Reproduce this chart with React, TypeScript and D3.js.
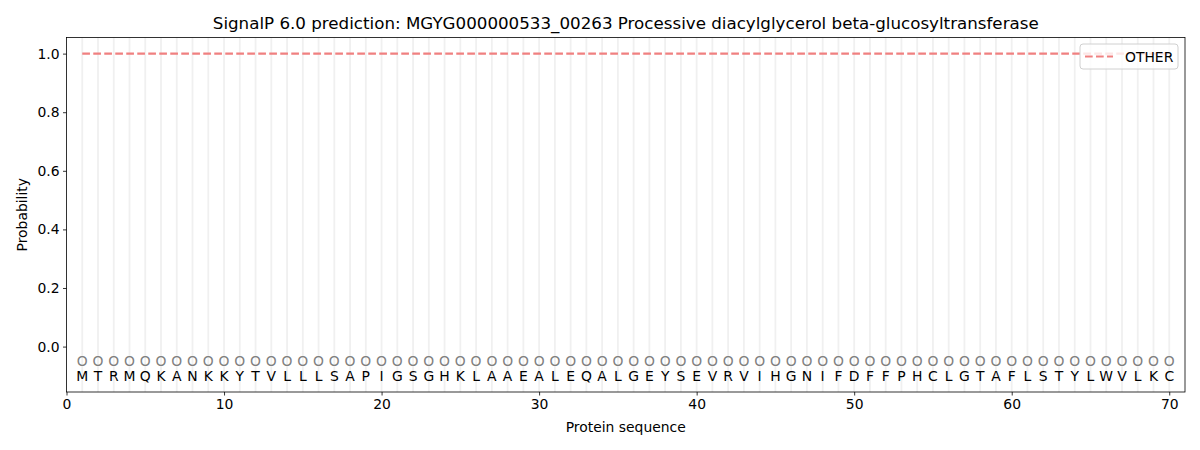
import React from 'react';
import * as d3 from 'd3';

const sequence = 'MTRMQKANKKYTVLLLSAPIGSGHKLAAEALEQALGEYSEVRVIHGNIFDFFPHCLGTAFLSTYLWVLKC'.split('');
const positions = sequence.map((_, i) => i + 1);
const otherProb = positions.map(() => 1.0);
const xTicks = [0, 10, 20, 30, 40, 50, 60, 70];
const yTicks = [0, 0.2, 0.4, 0.6, 0.8, 1.0];

const W = 1200;
const H = 450;
const margin = { left: 66.5, right: 15, top: 37.5, bottom: 58 };
const font = 'DejaVu Sans, sans-serif';

const App: React.FC = () => {
  const ref = React.useRef<SVGSVGElement>(null);

  React.useEffect(() => {
    const svg = d3.select(ref.current);
    svg.selectAll('*').remove();

    const x = d3.scaleLinear().domain([0, 71]).range([margin.left, W - margin.right]);
    const y = d3.scaleLinear().domain([-0.155, 1.055]).range([H - margin.bottom, margin.top]);

    svg.append('rect').attr('width', W).attr('height', H).attr('fill', 'white');

    // vertical grid at each residue
    svg
      .append('g')
      .selectAll('line')
      .data(positions)
      .enter()
      .append('line')
      .attr('x1', (d) => x(d))
      .attr('x2', (d) => x(d))
      .attr('y1', y.range()[0])
      .attr('y2', y.range()[1])
      .attr('stroke', '#f0f0f0')
      .attr('stroke-width', 1.8);

    // OTHER line
    const line = d3
      .line<number>()
      .x((_, i) => x(positions[i]))
      .y((d) => y(d));
    svg
      .append('path')
      .datum(otherProb)
      .attr('d', line)
      .attr('fill', 'none')
      .attr('stroke', '#f08080')
      .attr('stroke-width', 2.08)
      .attr('stroke-dasharray', '7.7,3.3');

    // circles and residue letters
    svg
      .append('g')
      .selectAll('text')
      .data(positions)
      .enter()
      .append('text')
      .attr('x', (d) => x(d))
      .attr('y', y(-0.05))
      .attr('text-anchor', 'middle')
      .attr('dominant-baseline', 'central')
      .attr('font-family', font)
      .attr('font-size', 13.9)
      .attr('fill', '#808080')
      .text('O');

    svg
      .append('g')
      .selectAll('text')
      .data(sequence)
      .enter()
      .append('text')
      .attr('x', (_, i) => x(positions[i]))
      .attr('y', y(-0.1))
      .attr('text-anchor', 'middle')
      .attr('dominant-baseline', 'central')
      .attr('font-family', font)
      .attr('font-size', 13.9)
      .attr('fill', 'black')
      .text((d) => d);

    // axes
    const xAxis = svg
      .append('g')
      .attr('transform', `translate(0,${H - margin.bottom})`)
      .call(d3.axisBottom(x).tickValues(xTicks).tickFormat(d3.format('d')).tickSizeOuter(0).tickSize(3.5).tickPadding(3.5));
    const yAxis = svg
      .append('g')
      .attr('transform', `translate(${margin.left},0)`)
      .call(d3.axisLeft(y).tickValues(yTicks).tickFormat(d3.format('.1f')).tickSizeOuter(0).tickSize(3.5).tickPadding(3.5));
    [xAxis, yAxis].forEach((g) => {
      g.select('.domain').remove();
      g.selectAll('text').attr('font-family', font).attr('font-size', 13.9).attr('fill', 'black');
      g.selectAll('line').attr('stroke', 'black').attr('stroke-width', 0.8);
    });

    svg
      .append('rect')
      .attr('x', margin.left)
      .attr('y', margin.top)
      .attr('width', W - margin.right - margin.left)
      .attr('height', H - margin.bottom - margin.top)
      .attr('fill', 'none')
      .attr('stroke', 'black')
      .attr('stroke-width', 0.8);

    // labels
    const cx = (margin.left + W - margin.right) / 2;
    svg
      .append('text')
      .attr('x', cx)
      .attr('y', 29)
      .attr('text-anchor', 'middle')
      .attr('font-family', font)
      .attr('font-size', 16.7)
      .text('SignalP 6.0 prediction: MGYG000000533_00263 Processive diacylglycerol beta-glucosyltransferase');
    svg
      .append('text')
      .attr('x', cx)
      .attr('y', 432)
      .attr('text-anchor', 'middle')
      .attr('font-family', font)
      .attr('font-size', 13.9)
      .text('Protein sequence');
    svg
      .append('text')
      .attr('transform', `translate(27,${(margin.top + H - margin.bottom) / 2}) rotate(-90)`)
      .attr('text-anchor', 'middle')
      .attr('font-family', font)
      .attr('font-size', 13.9)
      .text('Probability');

    // legend
    const lg = svg.append('g').attr('transform', 'translate(1080,44)');
    lg.append('rect')
      .attr('width', 98)
      .attr('height', 25)
      .attr('rx', 3)
      .attr('fill', 'white')
      .attr('fill-opacity', 0.8)
      .attr('stroke', '#d0d0d0');
    lg.append('line')
      .attr('x1', 5)
      .attr('x2', 33)
      .attr('y1', 12.5)
      .attr('y2', 12.5)
      .attr('stroke', '#f08080')
      .attr('stroke-width', 2.08)
      .attr('stroke-dasharray', '7.7,3.3');
    lg.append('text')
      .attr('x', 45)
      .attr('y', 12.5)
      .attr('dominant-baseline', 'central')
      .attr('font-family', font)
      .attr('font-size', 13.9)
      .text('OTHER');
  }, []);

  return <svg ref={ref} width={W} height={H} style={{ position: 'absolute', left: 0, top: 0 }} />;
};

export default App;
